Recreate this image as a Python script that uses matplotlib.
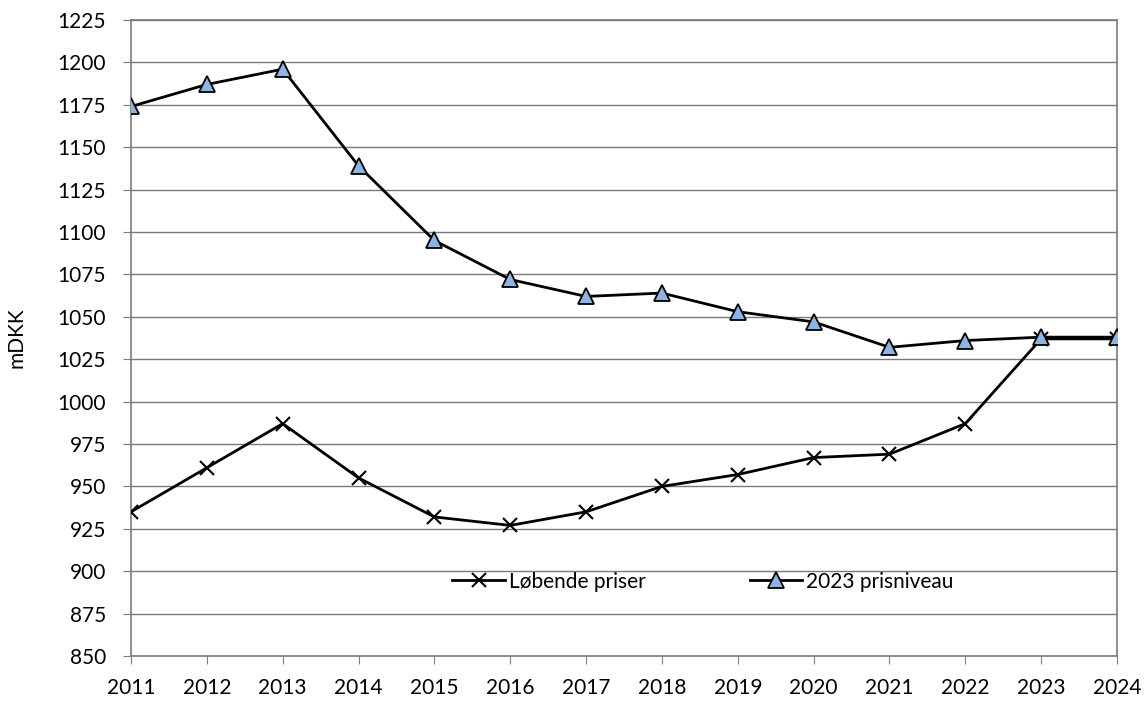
import matplotlib
matplotlib.use("Agg")
import matplotlib.pyplot as plt

years = [2011, 2012, 2013, 2014, 2015, 2016, 2017, 2018, 2019, 2020, 2021, 2022, 2023, 2024]
loebende = [935, 961, 987, 955, 932, 927, 935, 950, 957, 967, 969, 987, 1037, 1037]
prisniveau = [1174, 1187, 1196, 1139, 1095, 1072, 1062, 1064, 1053, 1047, 1032, 1036, 1038, 1038]
yticks = list(range(850, 1226, 25))

plt.rcParams['font.family'] = ['Lato', 'DejaVu Sans']

fig = plt.figure(figsize=(11.46, 7.04), dpi=100)
ax = fig.add_axes([131/1146, 1 - 656/704, (1117-131)/1146, (656-20)/704])

ax.plot(years, loebende, color='black', lw=2, marker='x', markersize=10,
        markeredgewidth=1.5, label='Løbende priser', zorder=3)
ax.plot(years, prisniveau, color='black', lw=2, marker='^', markersize=11,
        markerfacecolor='#8eb4e3', markeredgecolor='black', markeredgewidth=1.3,
        label='2023 prisniveau', zorder=3)

ax.set_xlim(2011, 2024)
ax.set_ylim(850, 1225)
ax.set_yticks(yticks)
ax.set_xticks(years)
ax.yaxis.grid(True, color='#7a7a7a', lw=1)
ax.set_axisbelow(True)
for s in ax.spines.values():
    s.set_color('#7a7a7a')
    s.set_linewidth(1.2)
ax.tick_params(axis='both', direction='out', length=6, color='#7a7a7a', labelsize=15)
ax.tick_params(axis='x', pad=10)
ax.tick_params(axis='y', pad=12)
ax.set_ylabel('mDKK', fontsize=15, labelpad=22)

ax.legend(loc='center', bbox_to_anchor=(0.58, 0.117), ncol=2, frameon=False,
          fontsize=15, handlelength=2.5, columnspacing=5, handletextpad=0.2,
          numpoints=1)

fig.savefig('out.png', dpi=100)
